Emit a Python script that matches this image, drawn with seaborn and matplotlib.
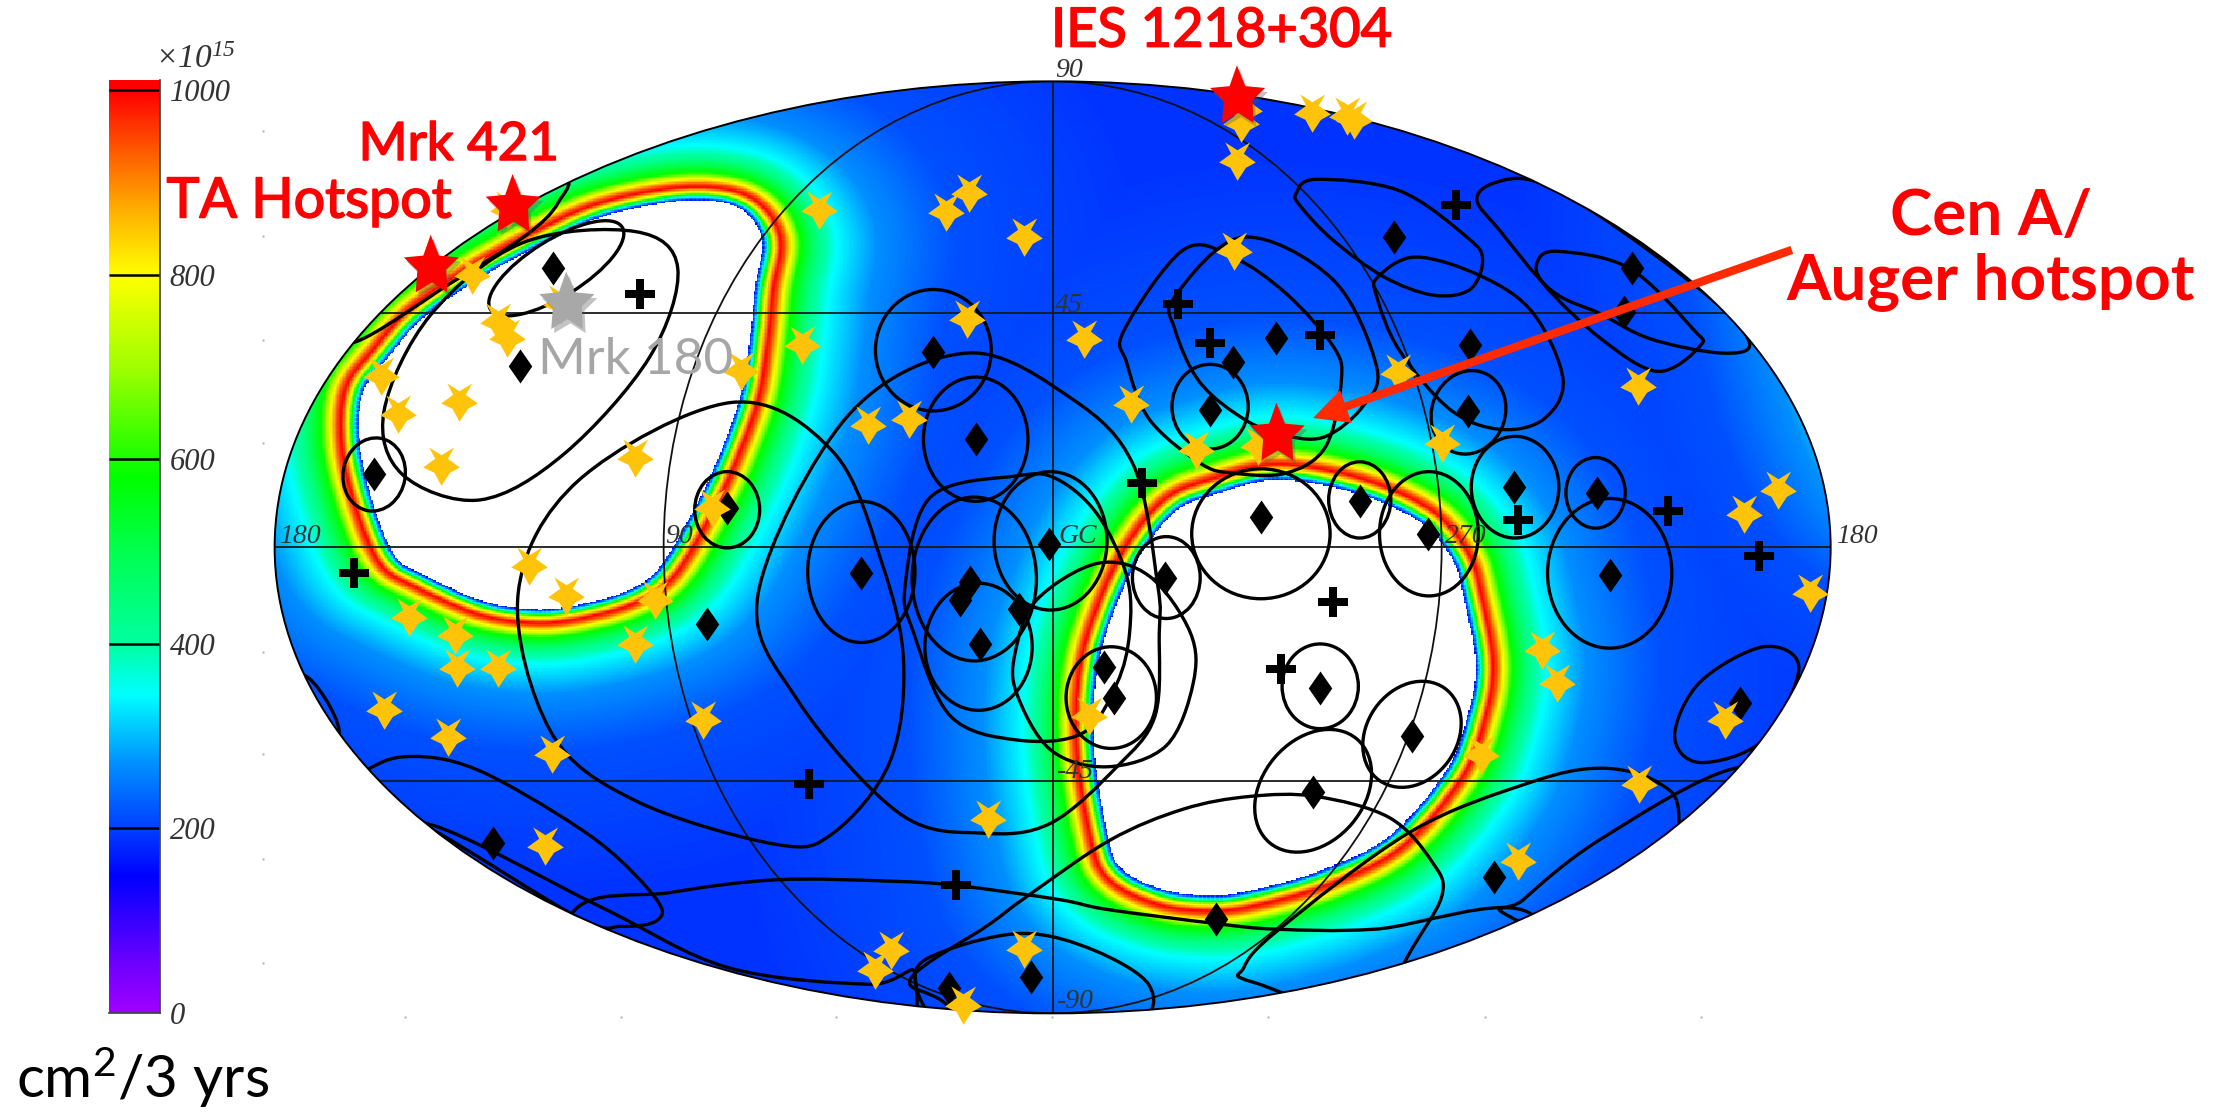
import numpy as np
import pandas as pd
import matplotlib
matplotlib.use("Agg")
import matplotlib.pyplot as plt
import matplotlib.patheffects as pe
import seaborn as sns
from matplotlib.path import Path
from matplotlib.patches import Ellipse, PathPatch
from matplotlib.colors import LinearSegmentedColormap

# ---------- values (sky-map plane, reference units 1568 x 791) ----------
gold_x = [580,670,686,725,685,768,568,525,334,353,359,270,282,325,312,450,615,644,504,397,360,
          881,879,929,954,959,876,874,990,1160,801,847,1021,1259,1235,891,
          375,401,464,290,322,324,353,450,272,317,391,498,700,386,631,620,725,682,771,
          1282,1092,1103,1049,1161,1075,1222]
gold_y = [149,150,137,168,226,240,244,263,195,228,239,266,293,285,330,324,301,297,360,215,149,
          78,87,80,82,85,114,178,264,273,286,319,314,347,364,316,
          401,422,425,437,450,473,473,456,503,522,534,510,580,599,673,687,672,712,507,
          420,460,484,535,555,610,510]
diamond_x = [392,368,265,661,691,515,743,987,1156,1150,1041,904,873,857,1040,1072,1131,963,893,1011,
             610,687,680,722,694,501,349,730,672,1140,825,935,789,782,1000,930,861,1058,1232]
diamond_y = [190,259,336,249,311,360,385,168,190,221,244,239,256,290,291,345,349,355,366,378,
             406,412,425,431,456,442,597,692,700,407,409,487,494,472,521,561,651,621,498]
plus_x = [453,1031,834,857,935,809,1075,1181,1246,251,573,677,944,907]
plus_y = [208,145,215,243,237,342,368,362,394,406,555,627,426,474]
red_x = [363,305,876,904]
red_y = [144,187,67,306]
grey_x = [401]
grey_y = [213]

ell_cx = [394,265,515,661,691,610,690,693,744,826,787,857,893,963,1012,1073,1130,1040,1140,935,1000,930]
ell_cy = [190,336,361,248,311,405,410,458,383,409,494,288,378,354,378,345,349,292,406,486,520,560]
ell_a  = [55, 22, 23, 41, 37, 38, 44, 38, 40, 24, 32, 27, 49, 22, 35, 31, 21, 26, 44, 27, 40, 48]
ell_b  = [20, 26, 27, 43, 44, 50, 58, 45, 49, 29, 36, 30, 46, 27, 44, 36, 25, 30, 53, 30, 32, 36]
ell_t  = [-32, 10, 0, 0, 0, 0, 0, 0, 0, 0, 0, 0, 0, 0, 0, 0, 0, 20, 0, 0, -55, -50]

contours = [
    [(450,164),(480,190),(460,253),(400,321),(340,354),(285,336),(272,291),(305,223),(370,172)],
    [(395,125),(395,144),(372,167),(320,200),(252,242),(230,230),(300,140)],
    [(518,285),(590,320),(625,400),(640,470),(630,540),(590,590),(550,598),(450,567),(390,518),(367,420),(410,340)],
    [(685,250),(760,283),(803,330),(820,415),(821,448),(818,507),(791,543),(744,583),(696,590),(637,576),(565,496),(537,420),(600,295)],
    [(777,364),(798,408),(800,448),(791,484),(767,519),(720,524),(673,507),(647,448),(641,415),(659,352),(720,337),(748,339)],
    [(720,491),(719,462),(734,425),(777,399),(814,408),(843,448),(845,484),(826,528),(784,543),(744,531)],
    [(976,196),(1003,182),(1050,196),(1086,222),(1107,269),(1093,297),(1062,304),(1027,290),(991,248),(975,210)],
    [(918,137),(932,127),(991,135),(1039,168),(1050,184),(1041,205),(1015,209),(980,196),(944,170),(921,146)],
    [(1104,178),(1154,190),(1199,233),(1204,245),(1174,263),(1134,240),(1094,202),(1089,185)],
    [(1046,142),(1057,130),(1086,128),(1133,153),(1210,210),(1239,243),(1219,250),(1169,240),(1133,222),(1098,205),(1062,163)],
    [(832,210),(880,168),(944,198),(975,260),(965,288),(939,309),(913,309),(883,298),(850,271),(832,233)],
    [(796,234),(838,177),(873,182),(911,208),(944,245),(950,269),(939,316),(911,335),(873,335),(850,328),(814,297),(798,257)],
    [(1249,458),(1274,473),(1249,524),(1204,540),(1186,521),(1204,483)],
    [(670,711),(645,693),(700,655),(727,635),(786,595),(838,573),(885,564),(932,564),(984,579),(1014,610),(1021,635),(994,683),(960,760),(720,760)],
    [(405,647),(475,632),(550,623),(630,624),(677,627),(750,637),(784,644),(861,654),(904,658),(974,658),(1084,647),(1100,740),(400,740)],
    [(262,544),(285,536),(320,539),(360,556),(425,597),(465,637),(465,652),(440,656),(410,650),(300,584),(240,560)],
    [(648,690),(670,673),(725,661),(775,673),(814,698),(804,725),(720,745),(665,725)],
    [(881,685),(906,658),(999,589),(1084,554),(1134,544),(1174,554),(1189,579),(1175,660),(1000,720),(889,696)],
    [(1071,650),(1079,637),(1134,594),(1229,544),(1290,560),(1200,700)],
    [(215,478),(240,516),(225,540),(190,500)],
    [(305,584),(425,642),(515,685),(615,697),(648,690),(620,760),(420,740),(270,600)],
]

hole_left = [(300,225),(340,197),(380,175),(425,154),(475,143),(510,143),(530,152),(540,172),(535,202),(531,240),
             (525,278),(512,316),(495,354),(467,402),(440,420),(400,430),(372,431),(340,425),(300,407),(280,394),
             (265,359),(255,316),(257,278),(275,253)]
hole_right = [(864,349),(899,340),(934,343),(974,354),(1009,372),(1029,397),(1036,420),(1045,470),(1039,508),(1024,546),
              (984,592),(934,617),(884,631),(856,634),(824,630),(794,615),(784,589),(775,530),(777,475),(790,430),(809,391),(834,361)]
hole_wrap = [(1320,170),(1360,130),(1460,150),(1480,300),(1390,340),(1345,290)]

ramp_dist = [0,2.5,4,6,9.5,12,15,20,30,39,60,100,200,900]
ramp_val  = [120,345,580,800,1000,930,800,580,420,345,270,215,190,185]

cmap_val = [0,50,147,200,270,345,400,500,580,700,800,870,930,1000,1011]
cmap_col = ["#a000ff","#7000ff","#0000ff","#0040ff","#0090ff","#00ffff","#00ffa0","#00ff50","#00ff00",
            "#a0ff00","#ffff00","#ffb000","#ff6000","#ff0000","#ff0000"]

bar_ticks = [0,200,400,600,800,1000]
sky_x0, sky_y0, sky_a, sky_b = 745.5, 387.6, 551, 330

def smooth_path(p):
    p = np.asarray(p, float); n = len(p)
    v = [p[0]]; c = [Path.MOVETO]
    for i in range(n):
        a, b, d, e = p[i-1], p[i], p[(i+1) % n], p[(i+2) % n]
        v += [b + (d-a)/6, d - (e-b)/6, d]
        c += [Path.CURVE4]*3
    return Path(np.array(v), c)

def boundary(p):
    poly = smooth_path(p).to_polygons(closed_only=False)[0]
    seg = np.hypot(*np.diff(poly, axis=0).T); s = np.r_[0, np.cumsum(seg)]
    t = np.arange(0, s[-1], 3.0)
    return poly, np.c_[np.interp(t, s, poly[:,0]), np.interp(t, s, poly[:,1])]

W, H = 1568, 791
xs = np.arange(W, dtype=np.float32) + .5
ys = np.arange(H, dtype=np.float32) + .5
dist = np.full((H, W), 1e9, dtype=np.float32)
inside = np.zeros((H, W), bool)
gx, gy = np.meshgrid(xs, ys)
for h, xscale, yscale in ((hole_left, 1.35, 1.0), (hole_right, 1.3, 1.15), (hole_wrap, 1.25, 1.0)):
    poly, pts = boundary(h)
    px = pts[:,0].astype(np.float32)[None, None, :]
    py = pts[:,1].astype(np.float32)[None, None, :]
    for r0 in range(0, H, 40):
        d = np.sqrt((((gx[r0:r0+40, :, None]-px)/xscale)**2 + ((gy[r0:r0+40, :, None]-py)/yscale)**2).min(axis=2))
        dist[r0:r0+40] = np.minimum(dist[r0:r0+40], d)
    inside |= Path(poly).contains_points(np.c_[gx.ravel(), gy.ravel()]).reshape(H, W)
field = np.interp(dist, ramp_dist, ramp_val)
field[inside] = np.nan

cmap = LinearSegmentedColormap.from_list("rootrainbow", [(v/1011, c) for v, c in zip(cmap_val, cmap_col)], N=512)
cmap.set_bad("white")

def marker(pts):
    return Path(np.array(pts + [pts[0]], float), closed=True)

gold_star = marker([(0,-13.7),(-5,-4.5),(-13,-0.7),(-4.5,5.5),(-8.7,13.5),(0,8),(9,13.5),(4.5,5.5),(13,-0.7),(6,-4.5)])
top_star = marker([(0,20.8),(5.9,6),(20,4.7),(11,-4),(11.8,-20),(1,-13),(-10.6,-20),(-9.4,-4.7),(-19,4.7),(-5.2,6)])
diamond = marker([(0,12),(8.3,0),(0,-12),(-8.3,0)])
plus = marker([(-3,10.5),(3,10.5),(3,3),(10.5,3),(10.5,-3),(3,-3),(3,-10.5),(-3,-10.5),(-3,-3),(-10.5,-3),(-10.5,3),(-3,3)])

sns.set_theme(style="white")
plt.rcParams["font.family"] = ["Lato", "DejaVu Sans"]
plt.rcParams["mathtext.default"] = "regular"

fig = plt.figure(figsize=(22.14, 11.17), dpi=100, facecolor="white")
ax = fig.add_axes([0, 0, 1, 1])
sky = Ellipse((sky_x0, sky_y0), 2*sky_a, 2*sky_b, transform=ax.transData, fc="none", ec="black", lw=1.4, zorder=6)
im = ax.imshow(field, extent=(0, W, H, 0), cmap=cmap, vmin=0, vmax=1011, interpolation="nearest", aspect="auto", zorder=1)
ax.add_patch(sky)
im.set_clip_path(sky)

def clip(artist):
    artist.set_clip_path(sky)
    return artist

# graticule
grid_kw = dict(color="#1a1a1a", lw=1.3, zorder=3)
clip(ax.plot([sky_x0-sky_a, sky_x0+sky_a], [sky_y0, sky_y0], **grid_kw)[0])
for lat_y in (222, 553):
    clip(ax.plot([sky_x0-sky_a, sky_x0+sky_a], [lat_y, lat_y], **grid_kw)[0])
clip(ax.plot([sky_x0, sky_x0], [sky_y0-sky_b, sky_y0+sky_b], **grid_kw)[0])
clip(ax.add_patch(Ellipse((sky_x0, sky_y0), sky_a, 2*sky_b, fc="none", ec="#111111", lw=1.3, zorder=3)))

# error contours
for cx, cy, a, b, t in zip(ell_cx, ell_cy, ell_a, ell_b, ell_t):
    clip(ax.add_patch(Ellipse((cx, cy), 2*a, 2*b, angle=t, fc="none", ec="black", lw=2.4, zorder=4)))
for c in contours:
    clip(ax.add_patch(PathPatch(smooth_path(c), fc="none", ec="black", lw=2.4, zorder=4)))

# sources
sns.scatterplot(x=diamond_x, y=diamond_y, marker=diamond, s=600, color="black", linewidth=0, ax=ax, zorder=7, legend=False)
sns.scatterplot(x=plus_x, y=plus_y, marker=plus, s=460, color="black", linewidth=0, ax=ax, zorder=7, legend=False)
sns.scatterplot(x=gold_x, y=gold_y, marker=gold_star, s=770, color="#ffc40a", linewidth=0, ax=ax, zorder=8, legend=False)
shadow = [pe.SimplePatchShadow(offset=(2, -3), shadow_rgbFace="#555555", alpha=.35), pe.Normal()]
sns.scatterplot(x=grey_x, y=grey_y, marker=top_star, s=1790, color="#a8a8a8", linewidth=0, ax=ax, zorder=9, legend=False)
ax.collections[-1].set_path_effects(shadow)
sns.scatterplot(x=red_x, y=red_y, marker=top_star, s=1790, color="#ff0000", linewidth=0, ax=ax, zorder=9, legend=False)
ax.collections[-1].set_path_effects(shadow)

# faint frame ticks
left_ticks = [93,167,241,314,462,534,608,682]
bottom_ticks = [287,440,592,745,898,1052,1205]
ax.scatter([186]*len(left_ticks), left_ticks, s=3, color="#bbbbbb", linewidth=0, zorder=2)
ax.scatter(bottom_ticks, [720.5]*len(bottom_ticks), s=3, color="#bbbbbb", linewidth=0, zorder=2)

# map labels
serif = dict(family="Liberation Serif", style="italic", color="#333333", fontsize=20, ha="center", va="center", zorder=10)
for s, x, y in [("180",212,380),("90",481,380),("GC",763,380),("270",1038,380),("180",1315,380),
                ("90",757,50),("45",757,216),("-45",762,546),("-90",762,709)]:
    ax.text(x, y, s, **serif)

# headline labels
thick = [pe.withStroke(linewidth=1.2, foreground="#ff0000")]
red = dict(color="#ff0000", ha="center", va="center", zorder=11)
ax.text(325, 103, "Mrk 421", fontsize=38, path_effects=thick, **red)
ax.text(219, 143, "TA Hotspot", fontsize=40, path_effects=thick, **red)
ax.text(865, 22, "IES 1218+304", fontsize=39, path_effects=thick, **red)
ax.text(1410, 153, "Cen A/", fontsize=46, fontweight="bold", **red)
ax.text(1410, 199, "Auger hotspot", fontsize=46, fontweight="bold", **red)
ax.text(450, 255, "Mrk 180", fontsize=37, color="#a6a6a6", ha="center", va="center", zorder=11)
ax.text(101, 763, "cm$^{2}$/3 yrs", fontsize=42, color="black", ha="center", va="center", zorder=11)

ax.annotate("", xy=(930, 296), xytext=(1269, 177), zorder=12,
            arrowprops=dict(facecolor="#ff2a00", edgecolor="none", width=6, headwidth=25, headlength=25, shrink=0))

ax.set_xlim(0, W)
ax.set_ylim(H, 0)
ax.set_axis_off()

# colour bar
cax = fig.add_axes([109/2214, (1117-1013)/1117, 51/2214, 933/1117])
grad = np.linspace(0, 1011, 512)[:, None]
cax.imshow(grad, origin="lower", extent=(0, 1, 0, 1011), cmap=cmap, vmin=0, vmax=1011, aspect="auto")
cax.hlines(bar_ticks[1:], 0, 1, color="black", lw=1.8)
cax.set_xticks([])
cax.set_yticks(bar_ticks)
cax.set_yticklabels([str(v) for v in bar_ticks], family="Liberation Serif", style="italic", fontsize=22, color="#333333")
cax.yaxis.tick_right()
cax.tick_params(axis="y", length=0, pad=7)
for side, sp in cax.spines.items():
    sp.set_visible(side in ("right", "bottom"))
    sp.set_color("#444444")
fig.text(195/2214, 1-60/1117, "×10$^{15}$", family="Liberation Serif", style="italic", fontsize=24, color="#333333", ha="center", va="center")

fig.savefig("out.png", dpi=100, facecolor="white")
